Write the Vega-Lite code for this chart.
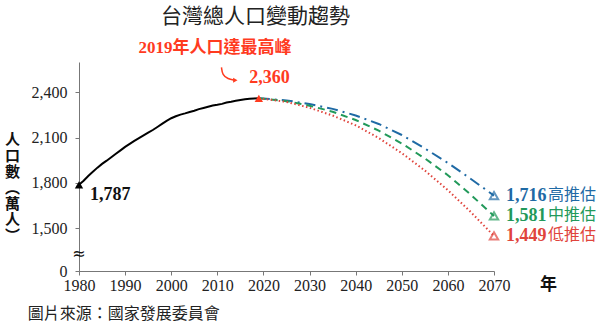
{
  "$schema": "https://vega.github.io/schema/vega-lite/v6.json",
  "autosize": "none",
  "padding": {"left": 79, "top": 62, "right": 106, "bottom": 59},
  "width": 415,
  "height": 209,
  "background": "white",
  "config": {"view": {"stroke": null}},
  "title": {"text": "台灣總人口變動趨勢", "anchor": "middle", "frame": "group", "dx": -31, "offset": 12, "font": "Noto Sans CJK TC", "fontSize": 21, "fontWeight": "normal", "color": "#222"},
  "datasets": {
    "hist": [
      {"year": 1980, "value": 1787}, {"year": 1981, "value": 1814}, {"year": 1982, "value": 1846}, {"year": 1983, "value": 1873},
      {"year": 1984, "value": 1901}, {"year": 1985, "value": 1926}, {"year": 1986, "value": 1947}, {"year": 1987, "value": 1970},
      {"year": 1988, "value": 1993}, {"year": 1989, "value": 2015}, {"year": 1990, "value": 2038}, {"year": 1991, "value": 2058},
      {"year": 1992, "value": 2078}, {"year": 1993, "value": 2096}, {"year": 1994, "value": 2114}, {"year": 1995, "value": 2132},
      {"year": 1996, "value": 2150}, {"year": 1997, "value": 2170}, {"year": 1998, "value": 2190}, {"year": 1999, "value": 2210},
      {"year": 2000, "value": 2228}, {"year": 2001, "value": 2241}, {"year": 2002, "value": 2252}, {"year": 2003, "value": 2260},
      {"year": 2004, "value": 2269}, {"year": 2005, "value": 2277}, {"year": 2006, "value": 2288}, {"year": 2007, "value": 2296},
      {"year": 2008, "value": 2304}, {"year": 2009, "value": 2312}, {"year": 2010, "value": 2317}, {"year": 2011, "value": 2323},
      {"year": 2012, "value": 2332}, {"year": 2013, "value": 2337}, {"year": 2014, "value": 2343}, {"year": 2015, "value": 2349},
      {"year": 2016, "value": 2354}, {"year": 2017, "value": 2357}, {"year": 2018, "value": 2359}, {"year": 2019, "value": 2360}
    ],
    "proj": [
      {"year": 2019, "value": 2360, "s": "高推估"}, {"year": 2025, "value": 2346, "s": "高推估"}, {"year": 2030, "value": 2322, "s": "高推估"},
      {"year": 2035, "value": 2290, "s": "高推估"}, {"year": 2040, "value": 2246, "s": "高推估"}, {"year": 2045, "value": 2190, "s": "高推估"},
      {"year": 2050, "value": 2117, "s": "高推估"}, {"year": 2055, "value": 2028, "s": "高推估"}, {"year": 2060, "value": 1932, "s": "高推估"},
      {"year": 2065, "value": 1826, "s": "高推估"}, {"year": 2070, "value": 1716, "s": "高推估"},
      {"year": 2019, "value": 2360, "s": "中推估"}, {"year": 2025, "value": 2341, "s": "中推估"}, {"year": 2030, "value": 2311, "s": "中推估"},
      {"year": 2035, "value": 2271, "s": "中推估"}, {"year": 2040, "value": 2216, "s": "中推估"}, {"year": 2045, "value": 2146, "s": "中推估"},
      {"year": 2050, "value": 2061, "s": "中推估"}, {"year": 2055, "value": 1962, "s": "中推估"}, {"year": 2060, "value": 1851, "s": "中推估"},
      {"year": 2065, "value": 1721, "s": "中推估"}, {"year": 2070, "value": 1581, "s": "中推估"},
      {"year": 2019, "value": 2360, "s": "低推估"}, {"year": 2025, "value": 2336, "s": "低推估"}, {"year": 2030, "value": 2297, "s": "低推估"},
      {"year": 2035, "value": 2246, "s": "低推估"}, {"year": 2040, "value": 2181, "s": "低推估"}, {"year": 2045, "value": 2097, "s": "低推估"},
      {"year": 2050, "value": 1997, "s": "低推估"}, {"year": 2055, "value": 1882, "s": "低推估"}, {"year": 2060, "value": 1752, "s": "低推估"},
      {"year": 2065, "value": 1606, "s": "低推估"}, {"year": 2070, "value": 1449, "s": "低推估"}
    ],
    "arrow": [
      {"year": 2010.9, "value": 2565}, {"year": 2011.1, "value": 2515}, {"year": 2012.3, "value": 2488}, {"year": 2013.7, "value": 2480}
    ]
  },
  "encoding": {
    "x": {"field": "year", "type": "quantitative", "scale": {"domain": [1980, 2070], "nice": false, "zero": false},
      "axis": {"values": [1980, 1990, 2000, 2010, 2020, 2030, 2040, 2050, 2060, 2070], "format": "d", "grid": false, "labelOverlap": false, "labelBound": false, "labelFlush": false,
        "domainColor": "#777", "tickColor": "#777", "tickSize": 4, "labelFont": "Liberation Serif", "labelFontSize": 16,
        "labelColor": "#222", "labelPadding": 2, "title": "年", "titleFont": "Noto Sans CJK TC", "titleFontSize": 17,
        "titleFontWeight": "bold", "titleColor": "#111", "titleAnchor": "start", "titleAlign": "center", "titleBaseline": "middle", "titleX": 469, "titleY": 13}},
    "y": {"field": "value", "type": "quantitative", "scale": {"domain": [1217, 2600], "nice": false, "zero": false},
      "axis": {"values": [1217, 1500, 1800, 2100, 2400], "labelExpr": "datum.value < 1300 ? '0' : format(datum.value, ',')", "grid": false, "labelOverlap": false, "labelFlush": false,
        "domainColor": "#777", "tickColor": "#777", "tickSize": 4, "labelFont": "Liberation Serif", "labelFontSize": 16,
        "labelColor": "#222", "labelPadding": 8,
        "title": ["人", "口", "數", "︵", "萬", "人", "︶"], "titleAngle": 0, "titleAlign": "center", "titleBaseline": "top",
        "titleX": -67, "titleY": 70, "titleFont": "Noto Sans CJK TC", "titleFontSize": 15, "titleFontWeight": "bold",
        "titleLineHeight": 16, "titleColor": "#111"}}
  },
  "layer": [
    {"data": {"name": "hist"}, "mark": {"type": "line", "color": "#000", "strokeWidth": 2}},
    {"data": {"name": "proj"}, "mark": {"type": "line", "strokeWidth": 2},
      "encoding": {
        "color": {"field": "s", "type": "nominal", "scale": {"domain": ["高推估", "中推估", "低推估"], "range": ["#1f6aa5", "#22995a", "#e0443c"]}, "legend": null},
        "strokeDash": {"field": "s", "type": "nominal", "scale": {"domain": ["高推估", "中推估", "低推估"], "range": [[11, 5, 2, 5], [7, 5], [1.5, 2.5]]}, "legend": null}
      }},
    {"data": {"name": "proj"}, "transform": [{"filter": "datum.year == 2070"}],
      "mark": {"type": "point", "shape": "triangle-up", "filled": false, "size": 70, "strokeWidth": 2},
      "encoding": {"color": {"field": "s", "type": "nominal", "scale": {"domain": ["高推估", "中推估", "低推估"], "range": ["#1f6aa5", "#22995a", "#e0443c"]}, "legend": null}}},
    {"data": {"name": "proj"}, "transform": [{"filter": "datum.year == 2070"}],
      "mark": {"type": "text", "align": "left", "baseline": "middle", "dx": 12, "font": "Liberation Serif", "fontSize": 18, "fontWeight": "bold"},
      "encoding": {"text": {"field": "value", "type": "quantitative", "format": ","},
        "color": {"field": "s", "type": "nominal", "scale": {"domain": ["高推估", "中推估", "低推估"], "range": ["#1f6aa5", "#22995a", "#e0443c"]}, "legend": null}}},
    {"data": {"name": "proj"}, "transform": [{"filter": "datum.year == 2070"}],
      "mark": {"type": "text", "align": "left", "baseline": "middle", "dx": 54, "dy": -1, "font": "Noto Sans CJK TC", "fontSize": 16},
      "encoding": {"text": {"field": "s", "type": "nominal"},
        "color": {"field": "s", "type": "nominal", "scale": {"domain": ["高推估", "中推估", "低推估"], "range": ["#1f6aa5", "#22995a", "#e0443c"]}, "legend": null}}},
    {"data": {"values": [{"year": 2019, "value": 2360}]}, "mark": {"type": "point", "shape": "triangle-up", "filled": true, "size": 70, "color": "#ff3b1f", "opacity": 1}},
    {"data": {"values": [{"year": 1980, "value": 1787}]}, "mark": {"type": "point", "shape": "triangle-up", "filled": true, "size": 70, "color": "#000", "opacity": 1}},
    {"data": {"name": "arrow"}, "mark": {"type": "line", "interpolate": "basis", "color": "#ff3b1f", "strokeWidth": 1.5}},
    {"data": {"values": [{"year": 2013.9, "value": 2480}]}, "mark": {"type": "point", "shape": "triangle-right", "filled": true, "size": 25, "color": "#ff3b1f", "opacity": 1}},
    {"data": {"values": [{"year": 2009.5, "value": 2690, "t": "2019年人口達最高峰"}]},
      "mark": {"type": "text", "font": "Liberation Serif, Noto Sans CJK TC", "fontSize": 17, "fontWeight": "bold", "color": "#ff3b1f", "baseline": "middle"},
      "encoding": {"text": {"field": "t"}}},
    {"data": {"values": [{"year": 2021.3, "value": 2497, "t": "2,360"}]},
      "mark": {"type": "text", "font": "Liberation Serif", "fontSize": 18, "fontWeight": "bold", "color": "#ff3b1f", "baseline": "middle"},
      "encoding": {"text": {"field": "t"}}},
    {"data": {"values": [{"year": 1986.8, "value": 1722, "t": "1,787"}]},
      "mark": {"type": "text", "font": "Liberation Serif", "fontSize": 18, "fontWeight": "bold", "color": "#111", "baseline": "middle"},
      "encoding": {"text": {"field": "t"}}},
    {"data": {"values": [{"year": 1980, "value": 1330, "t": "≈"}]},
      "mark": {"type": "text", "font": "DejaVu Sans", "fontSize": 16, "color": "#111", "baseline": "middle"},
      "encoding": {"text": {"field": "t"}}},
    {"data": {"values": [{"year": 1968.9, "value": 935, "t": "圖片來源：國家發展委員會"}]},
      "mark": {"type": "text", "font": "Noto Sans CJK TC", "fontSize": 16, "color": "#222", "align": "left", "baseline": "middle"},
      "encoding": {"text": {"field": "t"}}}
  ]
}
